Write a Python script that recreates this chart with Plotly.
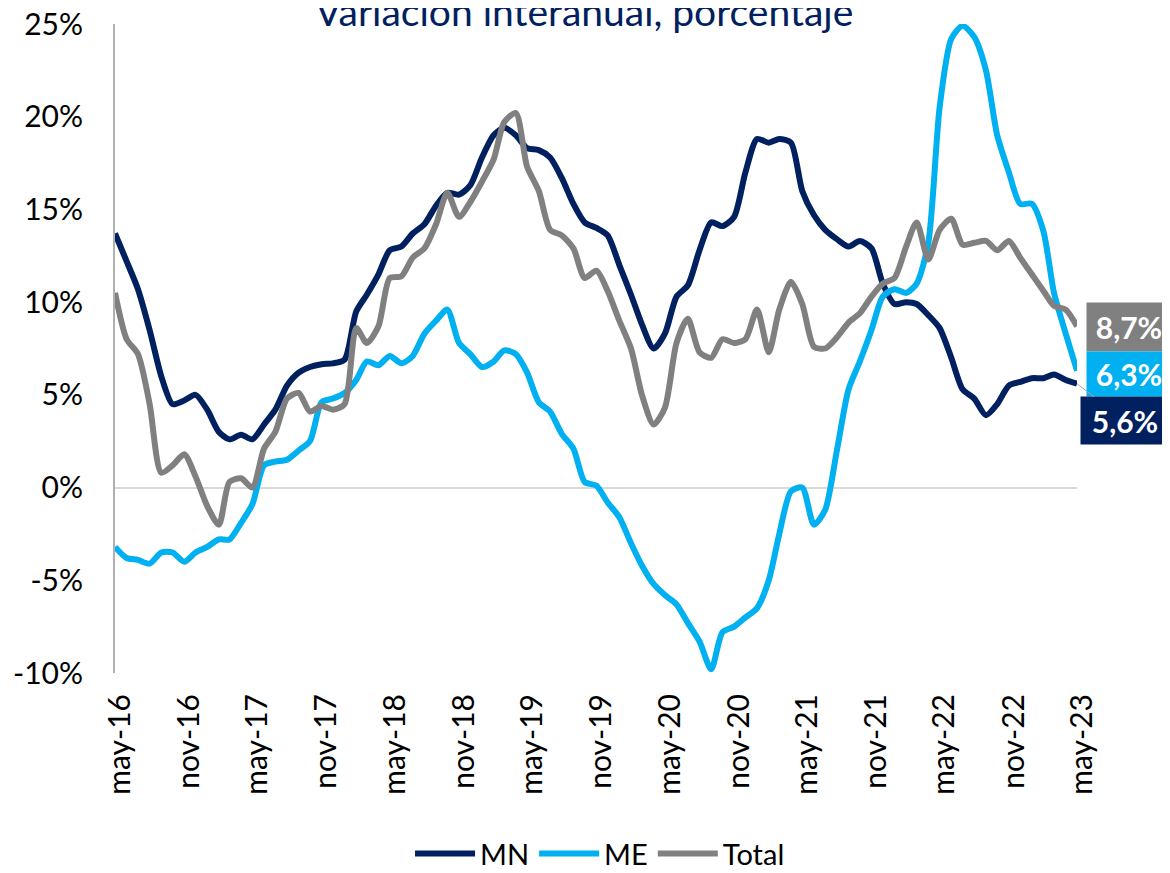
import pandas as pd
import plotly.graph_objects as go

months = pd.date_range("2016-05-01", "2023-05-01", freq="MS")

mn = [13.7, 12.2, 10.7, 8.5, 6.0, 4.5, 4.7, 5.0, 4.2, 3.0,
      2.6, 2.85, 2.6, 3.4, 4.2, 5.5, 6.2, 6.5, 6.65, 6.7,
      6.9, 9.5, 10.4, 11.5, 12.8, 13.0, 13.7, 14.2, 15.2, 15.9,
      15.8, 16.3, 17.8, 19.0, 19.4, 19.0, 18.3, 18.2, 17.8, 16.7,
      15.3, 14.3, 14.0, 13.6, 12.0, 10.4, 8.8, 7.5, 8.3, 10.3,
      10.9, 12.8, 14.3, 14.1, 14.6, 17.0, 18.8, 18.6, 18.8, 18.6,
      16.0, 14.7, 13.9, 13.4, 13.0, 13.3, 12.9, 11.0, 9.9, 10.0,
      9.9, 9.3, 8.6, 7.0, 5.3, 4.8, 3.9, 4.5, 5.5, 5.7,
      5.9, 5.9, 6.1, 5.8, 5.6]

me = [-3.2, -3.8, -3.9, -4.1, -3.5, -3.5, -4.0, -3.5, -3.2, -2.8,
      -2.8, -1.9, -0.9, 1.2, 1.4, 1.5, 2.0, 2.5, 4.6, 4.8,
      5.1, 5.8, 6.8, 6.6, 7.1, 6.7, 7.1, 8.3, 9.0, 9.6,
      7.8, 7.2, 6.5, 6.8, 7.4, 7.2, 6.2, 4.6, 4.1, 2.9,
      2.1, 0.3, 0.1, -0.8, -1.6, -3.0, -4.2, -5.2, -5.8, -6.3,
      -7.3, -8.3, -9.8, -7.8, -7.5, -7.0, -6.5, -5.0, -2.5, -0.2,
      0.0, -2.0, -1.2, 2.0, 5.3, 6.8, 8.5, 10.3, 10.7, 10.5,
      11.0, 13.2, 20.5, 24.2, 24.9, 24.3, 22.5, 19.0, 17.0, 15.3,
      15.3, 13.8, 10.5, 8.3, 6.3]

total = [10.5, 8.0, 7.2, 4.5, 0.8, 1.2, 1.8, 0.6, -1.0, -2.0,
         0.3, 0.5, 0.0, 2.1, 3.0, 4.8, 5.1, 4.1, 4.4, 4.2,
         4.5, 8.6, 7.8, 8.7, 11.3, 11.4, 12.4, 12.9, 14.2, 15.9,
         14.6, 15.4, 16.5, 17.7, 19.7, 20.2, 17.3, 16.0, 13.9, 13.6,
         12.9, 11.3, 11.7, 10.6, 9.0, 7.5, 5.0, 3.4, 4.3, 7.8,
         9.1, 7.3, 7.0, 8.0, 7.8, 8.0, 9.6, 7.3, 9.6, 11.1,
         9.9, 7.6, 7.5, 8.1, 8.9, 9.4, 10.3, 11.0, 11.3, 13.0,
         14.3, 12.3, 13.9, 14.5, 13.1, 13.2, 13.3, 12.8, 13.3, 12.4,
         11.5, 10.6, 9.8, 9.6, 8.7]

tick_dates = months[::6]
tick_text = ["may-16", "nov-16", "may-17", "nov-17", "may-18", "nov-18", "may-19",
             "nov-19", "may-20", "nov-20", "may-21", "nov-21", "may-22", "nov-22", "may-23"]
y_ticks = [-10, -5, 0, 5, 10, 15, 20, 25]
y_text = ["-10%", "-5%", "0%", "5%", "10%", "15%", "20%", "25%"]

C_MN = "#002060"
C_ME = "#00B0F0"
C_TOT = "#808080"
FONT = "Lato"

fig = go.Figure()
for name, vals, col in [("MN", mn, C_MN), ("ME", me, C_ME), ("Total", total, C_TOT)]:
    fig.add_trace(go.Scatter(x=months, y=vals, name=name, mode="lines",
                             line=dict(color=col, width=6, shape="spline", smoothing=0.7)))

def fmt(v):
    return f"{v:.1f}".replace(".", ",") + "%"

# end labels
fig.add_annotation(x=months[-1], y=total[-1], xref="x", yref="y", text=f"<b>{fmt(total[-1])}</b>",
                   showarrow=False, xanchor="left", xshift=9, yshift=-1, width=76, height=40, borderpad=4,
                   bgcolor=C_TOT, font=dict(family=FONT, size=30, color="white"))
fig.add_annotation(x=months[-1], y=me[-1], xref="x", yref="y", text=f"<b>{fmt(me[-1])}</b>",
                   showarrow=False, xanchor="left", xshift=9, yshift=-3, width=76, height=36, borderpad=4,
                   bgcolor=C_ME, font=dict(family=FONT, size=30, color="white"))
fig.add_annotation(x=months[-1], y=mn[-1], xref="x", yref="y", text=f"<b>{fmt(mn[-1])}</b>",
                   showarrow=True, arrowhead=0, arrowwidth=1, arrowcolor="#A6A6A6",
                   ax=48, ay=37, width=80, height=39, borderpad=4,
                   bgcolor=C_MN, font=dict(family=FONT, size=30, color="white"))

# title (partially cut at top as in the reference)
fig.add_annotation(x=0.5, y=1.020, xref="paper", yref="paper", text="Variación interanual, porcentaje",
                   showarrow=False, xanchor="center", yanchor="middle", xshift=-12,
                   font=dict(family=FONT, size=39, color=C_MN))

fig.update_layout(
    width=1162, height=865,
    margin=dict(l=107, r=93, t=16, b=200, autoexpand=False),
    paper_bgcolor="white", plot_bgcolor="white",
    font=dict(family=FONT, color="black"),
    showlegend=True,
    legend=dict(orientation="h", xref="container", yref="container",
                x=0.5095, xanchor="center", y=0.0225, yanchor="middle",
                font=dict(family=FONT, size=29, color="black"), itemwidth=60,
                traceorder="normal"),
)
fig.update_xaxes(range=[months[0], months[-1]], tickmode="array", tickvals=tick_dates, ticktext=tick_text,
                 tickangle=-90, showgrid=False, showline=False, zeroline=False, ticks="",
                 tickfont=dict(family=FONT, size=30, color="black"), ticklabelshift=5,
                 ticklabelstandoff=14, ticklabeloverflow="allow")
fig.update_yaxes(range=[-10, 25], tickmode="array", tickvals=y_ticks, ticktext=y_text,
                 showgrid=False, showline=True, linecolor="#B0B0B0", linewidth=2,
                 zeroline=True, zerolinecolor="#D9D9D9", zerolinewidth=2, ticks="",
                 tickfont=dict(family=FONT, size=30, color="black"), ticklabelstandoff=24,
                 ticklabeloverflow="allow")

fig.write_html("out.html")
